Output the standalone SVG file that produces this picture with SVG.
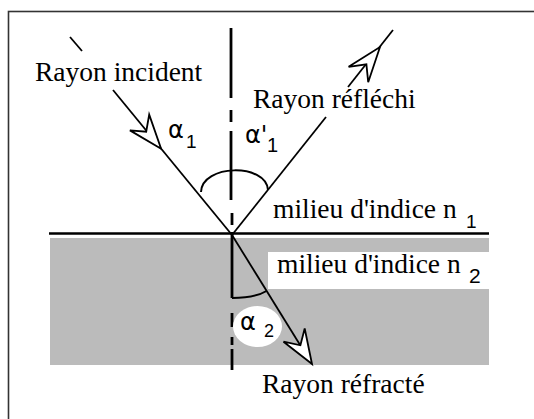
<svg xmlns="http://www.w3.org/2000/svg" width="534" height="419" viewBox="0 0 534 419">
<style>
.ray{stroke:#000;stroke-width:1.8;fill:none}
.normal{stroke:#000;stroke-width:2.8;fill:none}
.arc{stroke:#000;stroke-width:2;fill:none}
.dart{stroke:#000;stroke-width:1.8;fill:#fff;stroke-linejoin:miter}
.lbl{font-family:"Liberation Serif","Times New Roman",serif;font-size:27.5px;fill:#000}
.gk{font-family:"DejaVu Sans","Liberation Sans",sans-serif;font-size:24px;fill:#000}
.sub{font-family:"Liberation Sans",Arial,sans-serif;fill:#000}
</style>
<rect x="8.5" y="11.5" width="540" height="420" fill="#fff" stroke="#333" stroke-width="1.6"/>
<g id="media">
<rect x="50" y="238" width="439" height="127" fill="#bbbbbb"/>
<rect x="268" y="252" width="221" height="37" fill="#fff"/>
<line x1="49" y1="233.5" x2="489" y2="233.5" stroke="#000" stroke-width="2.4"/>
</g>
<g id="normal">
<line class="normal" x1="231" y1="28" x2="231" y2="98"/>
<line class="normal" x1="231" y1="110" x2="231" y2="122"/>
<line class="normal" x1="231" y1="131" x2="231" y2="200"/>
<line class="normal" x1="232" y1="213" x2="232" y2="225"/>
<line class="normal" x1="232" y1="232" x2="232" y2="298"/>
<line class="normal" x1="232" y1="313" x2="232" y2="327"/>
<line class="normal" x1="232" y1="337" x2="232" y2="345"/>
<line class="normal" x1="232" y1="349" x2="232" y2="370"/>
</g>
<g id="angles">
<path class="arc" d="M201,192 C202,164 266,163 268,190"/>
<path class="arc" d="M232,298 Q255,298 266.5,291"/>
<ellipse cx="257.5" cy="326.5" rx="24.5" ry="20.5" fill="#fff"/>
</g>
<g id="connectors">
<line class="ray" x1="70" y1="37" x2="82" y2="51"/>
<line class="ray" x1="113" y1="90" x2="232" y2="235"/>
<polygon class="dart" points="161.1,148.8 129.9,130.4 146.2,131.7 149.2,114.6"/>
<line class="ray" x1="232" y1="235" x2="326" y2="117"/>
<line class="ray" x1="348" y1="87" x2="393" y2="30"/>
<polygon class="dart" points="380,47 368.2,82.2 366.4,64.3 348.6,66.8"/>
<line class="ray" x1="232" y1="235" x2="310" y2="361"/>
<polygon class="dart" points="312,364 283.5,341.7 300.4,345.3 304.7,328.5"/>
</g>
<g id="label-incident"><text class="lbl" x="35" y="81">Rayon incident</text></g>
<g id="label-reflechi"><text class="lbl" x="253" y="108">Rayon réfléchi</text></g>
<g id="label-n1"><text class="lbl" x="273" y="218">milieu d'indice n</text><text class="sub" x="466" y="228" font-size="19">1</text></g>
<g id="label-n2"><text class="lbl" x="277" y="273">milieu d'indice n</text><text class="sub" x="469" y="283" font-size="21">2</text></g>
<g id="label-refracte"><text class="lbl" x="262" y="393">Rayon réfracté</text></g>
<g id="alpha1"><text class="gk" x="168" y="138">α</text><text class="sub" x="186" y="148" font-size="19">1</text></g>
<g id="alpha1p"><text class="gk" x="245" y="143">α'</text><text class="sub" x="267" y="152" font-size="20">1</text></g>
<g id="alpha2"><text class="gk" x="240" y="330">α</text><text class="sub" x="264" y="337" font-size="18">2</text></g>
</svg>
